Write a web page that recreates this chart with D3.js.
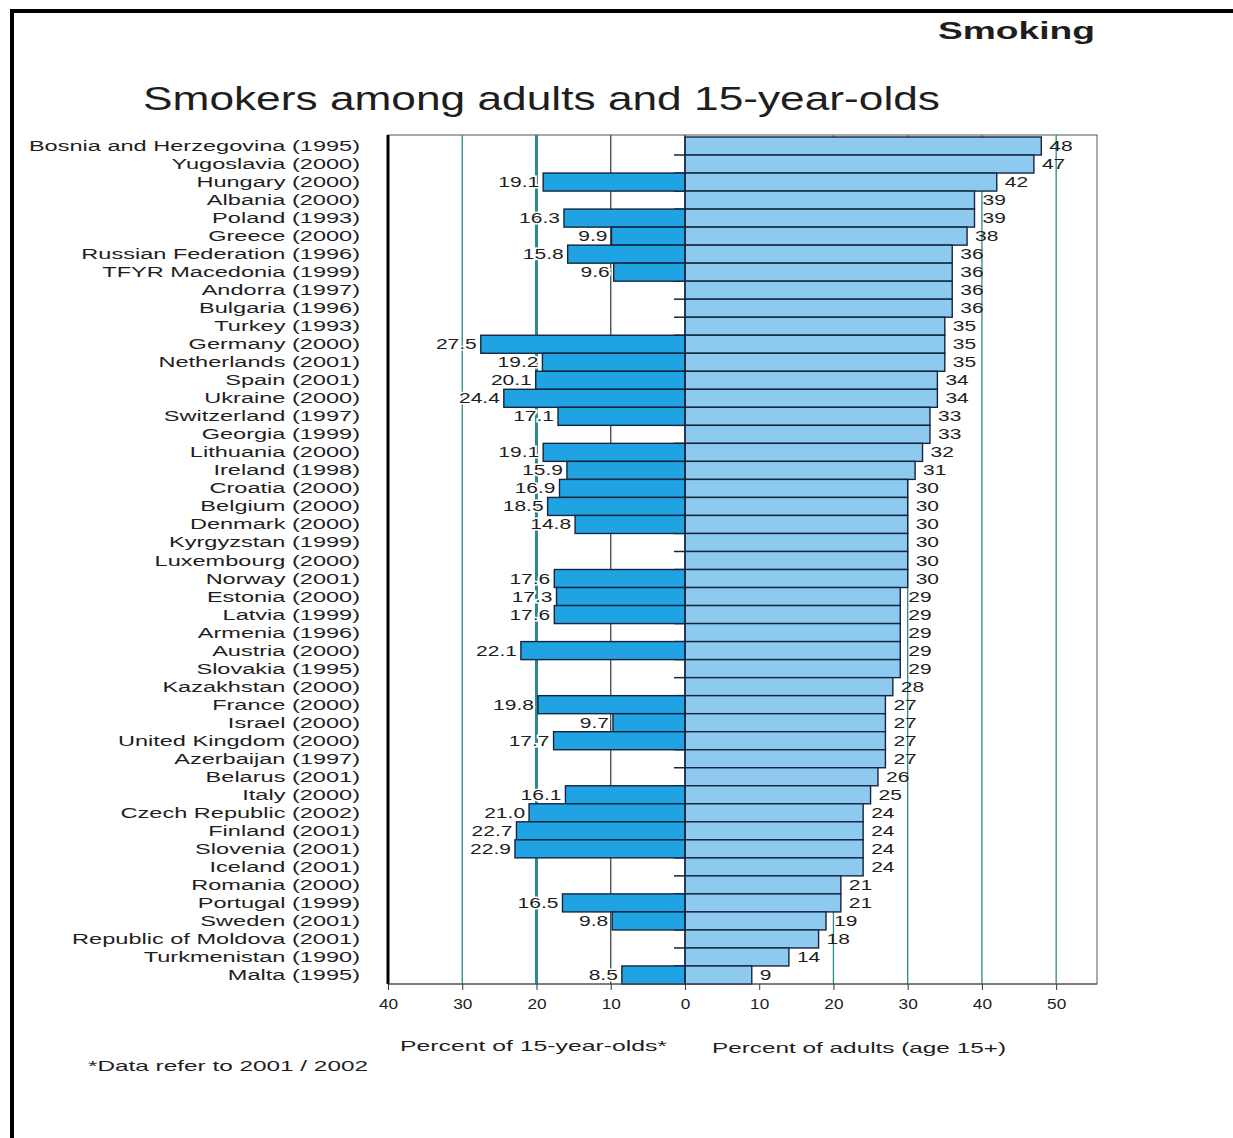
<!DOCTYPE html>
<html>
<head>
<meta charset="utf-8">
<script src="https://cdn.jsdelivr.net/npm/d3@7"></script>
<style>
  body { margin: 0; background: #fff; }
  svg { display: block; }
  text { font-family: "Liberation Sans", Arial, sans-serif; fill: #1e1e1e; }
</style>
</head>
<body>
<svg id="chart" width="1233" height="1138"></svg>
<script>
// Countries, ordered by share of adult smokers (survey year in brackets)
const countries = [
  "Bosnia and Herzegovina", "Yugoslavia", "Hungary", "Albania", "Poland", "Greece",
  "Russian Federation", "TFYR Macedonia", "Andorra", "Bulgaria", "Turkey", "Germany",
  "Netherlands", "Spain", "Ukraine", "Switzerland", "Georgia", "Lithuania", "Ireland",
  "Croatia", "Belgium", "Denmark", "Kyrgyzstan", "Luxembourg", "Norway", "Estonia",
  "Latvia", "Armenia", "Austria", "Slovakia", "Kazakhstan", "France", "Israel",
  "United Kingdom", "Azerbaijan", "Belarus", "Italy", "Czech Republic", "Finland",
  "Slovenia", "Iceland", "Romania", "Portugal", "Sweden", "Republic of Moldova",
  "Turkmenistan", "Malta"
];
const surveyYears = [
  1995, 2000, 2000, 2000, 1993, 2000,
  1996, 1999, 1997, 1996, 1993, 2000,
  2001, 2001, 2000, 1997, 1999, 2000, 1998,
  2000, 2000, 2000, 1999, 2000, 2001, 2000,
  1999, 1996, 2000, 1995, 2000, 2000, 2000,
  2000, 1997, 2001, 2000, 2002, 2001,
  2001, 2001, 2000, 1999, 2001, 2001,
  1990, 1995
];
// Percent of adults (age 15+) who smoke
const adultPct = [
  48, 47, 42, 39, 39, 38,
  36, 36, 36, 36, 35, 35,
  35, 34, 34, 33, 33, 32, 31,
  30, 30, 30, 30, 30, 30, 29,
  29, 29, 29, 29, 28, 27, 27,
  27, 27, 26, 25, 24, 24,
  24, 24, 21, 21, 19, 18,
  14, 9
];
// Percent of 15-year-olds who smoke (null = no survey data)
const youthPct = [
  null, null, 19.1, null, 16.3, 9.9,
  15.8, 9.6, null, null, null, 27.5,
  19.2, 20.1, 24.4, 17.1, null, 19.1, 15.9,
  16.9, 18.5, 14.8, null, null, 17.6, 17.3,
  17.6, null, 22.1, null, null, 19.8, 9.7,
  17.7, null, null, 16.1, 21.0, 22.7,
  22.9, null, null, 16.5, 9.8, null,
  null, 8.5
];
const tickValues = [-40, -30, -20, -10, 0, 10, 20, 30, 40, 50];
const gridValues = [-30, -20, -10, 20, 30, 40, 50];

const rows = countries.map((c, i) => ({
  country: c, year: surveyYears[i], adult: adultPct[i], youth: youthPct[i]
}));

const svg = d3.select("#chart");
const plot = { left: 388, right: 1097, top: 137, bottom: 984 };

const x = d3.scaleLinear().domain([-40, 55.5]).range([plot.left, plot.right]);
const y = d3.scaleBand().domain(countries).range([plot.top, plot.bottom]).padding(0);

const darkBlue = "#1fa3e3";
const lightBlue = "#8ec9f0";
const outline = "#16243f";
const teal = "#2b8a88";

// Outer page frame
svg.append("line").attr("x1", 10).attr("x2", 1233).attr("y1", 11).attr("y2", 11)
  .attr("stroke", "#000").attr("stroke-width", 4);
svg.append("line").attr("x1", 12).attr("x2", 12).attr("y1", 9).attr("y2", 1138)
  .attr("stroke", "#000").attr("stroke-width", 4);

// Section heading and chart title
svg.append("text").attr("x", 938).attr("y", 39)
  .attr("font-size", 24).attr("font-weight", "bold")
  .attr("textLength", 157).attr("lengthAdjust", "spacingAndGlyphs")
  .text("Smoking");
svg.append("text").attr("x", 143).attr("y", 110)
  .attr("font-size", 34).attr("fill", "#333")
  .attr("textLength", 797).attr("lengthAdjust", "spacingAndGlyphs")
  .text("Smokers among adults and 15-year-olds");

// Plot box
svg.append("rect").attr("x", plot.left).attr("y", 135)
  .attr("width", plot.right - plot.left).attr("height", plot.bottom - 135)
  .attr("fill", "#fff").attr("stroke", "#555").attr("stroke-width", 1);

// Vertical gridlines
svg.append("g").selectAll("line").data(gridValues).join("line")
  .attr("x1", d => x(d)).attr("x2", d => x(d))
  .attr("y1", 135).attr("y2", plot.bottom)
  .attr("stroke", d => d === -10 ? "#3a4a4a" : teal)
  .attr("stroke-width", d => d === -20 ? 3 : 1.3);

// Category ticks along the zero line
svg.append("g").selectAll("line").data(countries.slice(1)).join("line")
  .attr("x1", x(0) - 11).attr("x2", x(0))
  .attr("y1", d => y(d)).attr("y2", d => y(d))
  .attr("stroke", outline).attr("stroke-width", 1.5);

// Adult bars (right)
svg.append("g").selectAll("rect").data(rows).join("rect")
  .attr("x", x(0)).attr("y", d => y(d.country))
  .attr("width", d => x(d.adult) - x(0)).attr("height", y.bandwidth())
  .attr("fill", lightBlue).attr("stroke", outline).attr("stroke-width", 1.4);

// 15-year-old bars (left)
const youthRows = rows.filter(d => d.youth != null);
svg.append("g").selectAll("rect").data(youthRows).join("rect")
  .attr("x", d => x(-d.youth)).attr("y", d => y(d.country))
  .attr("width", d => x(0) - x(-d.youth)).attr("height", y.bandwidth())
  .attr("fill", darkBlue).attr("stroke", outline).attr("stroke-width", 1.4);

// Zero line and thick left edge
svg.append("line").attr("x1", x(0)).attr("x2", x(0)).attr("y1", 135).attr("y2", plot.bottom)
  .attr("stroke", outline).attr("stroke-width", 1.2);
svg.append("line").attr("x1", plot.left).attr("x2", plot.left).attr("y1", 135).attr("y2", plot.bottom)
  .attr("stroke", "#000").attr("stroke-width", 3);

// Value labels: adults
svg.append("g").selectAll("g").data(rows).join("g")
  .attr("transform", d => `translate(${x(d.adult) + 8},${y(d.country) + y.bandwidth() / 2 + 5}) scale(1.4,1)`)
  .append("text").attr("font-size", 15).attr("fill", "#333")
  .text(d => d.adult);

// Value labels: 15-year-olds
svg.append("g").selectAll("g").data(youthRows).join("g")
  .attr("transform", d => `translate(${x(-d.youth) - 4},${y(d.country) + y.bandwidth() / 2 + 5}) scale(1.4,1)`)
  .append("text").attr("font-size", 15).attr("text-anchor", "end").attr("fill", "#333")
  .attr("stroke", "#fff").attr("stroke-width", 3).attr("paint-order", "stroke")
  .text(d => d3.format(".1f")(d.youth));

// Country labels
svg.append("g").selectAll("g").data(rows).join("g")
  .attr("transform", d => `translate(360,${y(d.country) + y.bandwidth() / 2 + 5}) scale(1.57,1)`)
  .append("text").attr("font-size", 15).attr("text-anchor", "end")
  .text(d => `${d.country} (${d.year})`);

// Bottom axis
const axis = svg.append("g").attr("transform", `translate(0,${plot.bottom})`)
  .call(d3.axisBottom(x).tickValues(tickValues).tickFormat(d => Math.abs(d))
    .tickSize(6).tickPadding(8));
axis.select(".domain").attr("stroke", "#555").attr("d", `M${plot.left},0H${plot.right}`);
axis.selectAll(".tick line").attr("stroke", "#333");
axis.selectAll(".tick text")
  .attr("font-family", "'Liberation Sans', Arial, sans-serif")
  .attr("font-size", 15).attr("fill", "#333")
  .attr("transform", "scale(1.15,1)");

// Axis titles and footnote
svg.append("text").attr("x", 400).attr("y", 1051).attr("font-size", 15).attr("fill", "#333")
  .attr("textLength", 267).attr("lengthAdjust", "spacingAndGlyphs")
  .text("Percent of 15-year-olds*");
svg.append("text").attr("x", 712).attr("y", 1053).attr("font-size", 15).attr("fill", "#333")
  .attr("textLength", 294).attr("lengthAdjust", "spacingAndGlyphs")
  .text("Percent of adults (age 15+)");
svg.append("text").attr("x", 88).attr("y", 1071).attr("font-size", 15).attr("fill", "#333")
  .attr("textLength", 280).attr("lengthAdjust", "spacingAndGlyphs")
  .text("*Data refer to 2001 / 2002");
</script>
</body>
</html>
